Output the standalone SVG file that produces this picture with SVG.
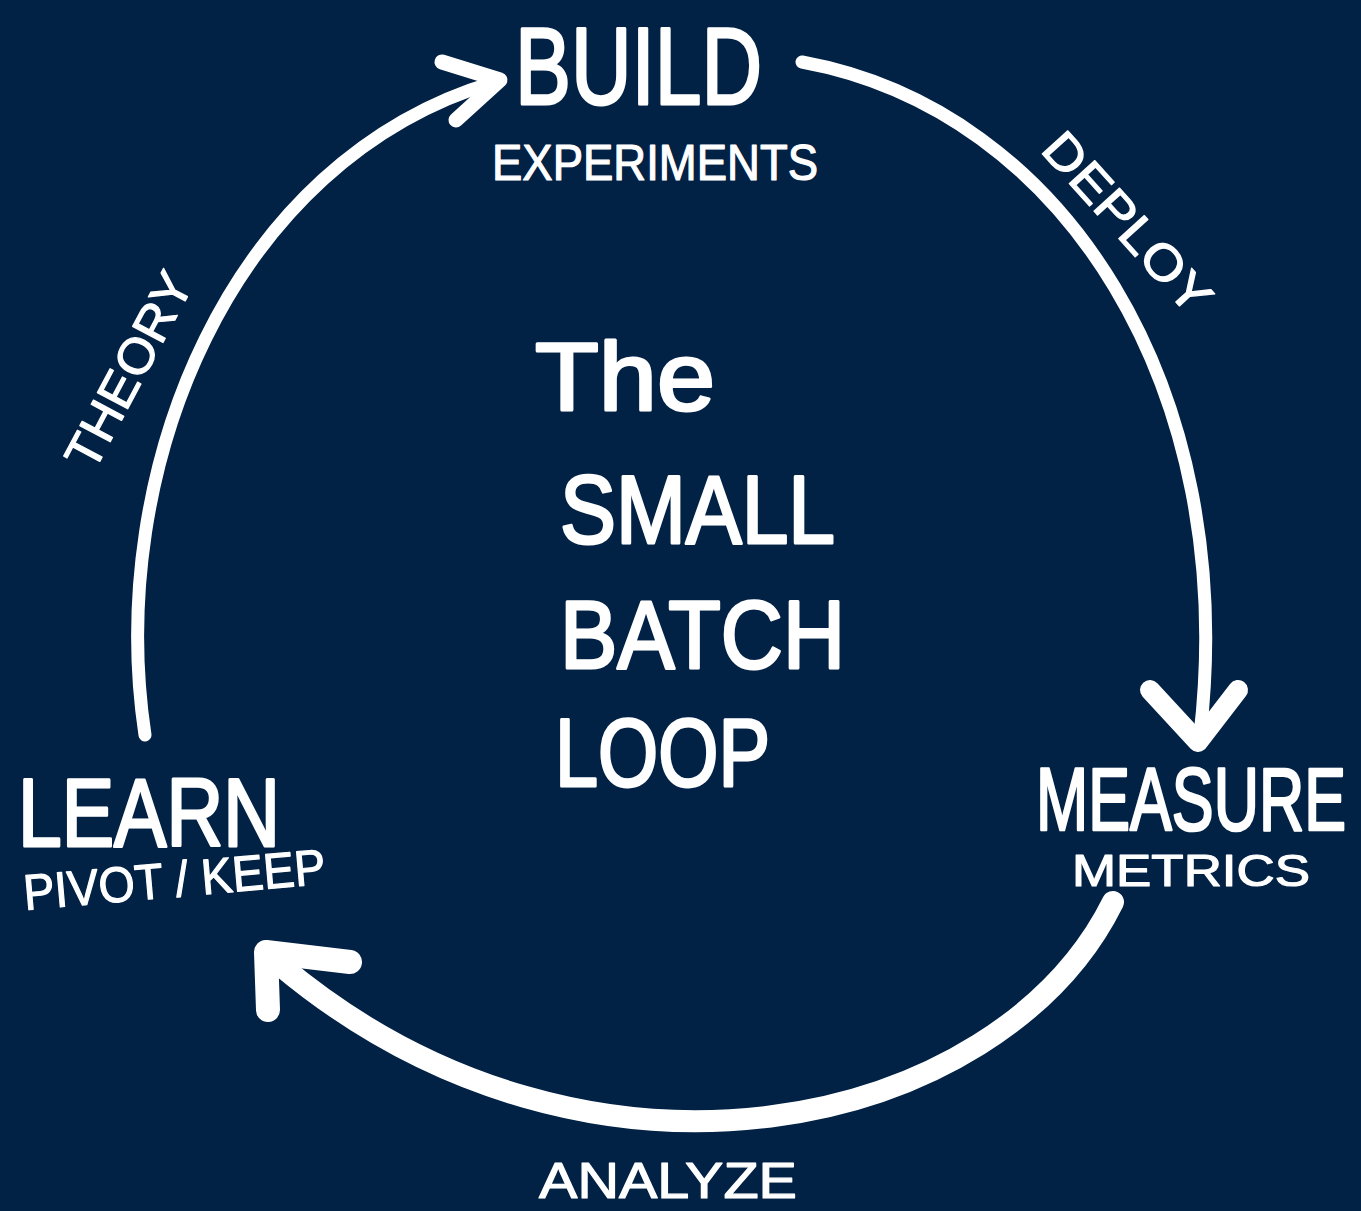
<svg xmlns="http://www.w3.org/2000/svg" width="1361" height="1211" viewBox="0 0 1361 1211">
<style>
.bg{fill:#012145}
.t{fill:#fff;font-family:"Liberation Sans","DejaVu Sans",sans-serif;stroke:#fff;stroke-linejoin:round}
.big{font-size:110px;stroke-width:3}
.sm{font-size:50px;stroke-width:1.2}
.ttl{font-size:96px;stroke-width:3}
.arc{fill:none;stroke:#fff;stroke-linecap:round;stroke-linejoin:round}
</style>
<rect class="bg" x="0" y="0" width="1361" height="1211"/>
<g id="connectors">
  <g id="theory-arc">
    <path class="arc" stroke-width="13" d="M145,735 C105,470 230,160 495,82"/>
    <path class="arc" stroke-width="15" d="M442,62 L500,80 L456,120"/>
    <text class="t sm" transform="translate(128,370) rotate(-62)" text-anchor="middle" textLength="215" lengthAdjust="spacingAndGlyphs" y="18">THEORY</text>
  </g>
  <g id="deploy-arc">
    <path class="arc" stroke-width="13" d="M802,62 C1065,110 1240,390 1200,735"/>
    <path class="arc" stroke-width="20" d="M1150,690 L1198,742 L1238,690"/>
    <text class="t sm" transform="translate(1128,222) rotate(48)" text-anchor="middle" textLength="225" lengthAdjust="spacingAndGlyphs" y="18">DEPLOY</text>
  </g>
  <g id="analyze-arc">
    <path class="arc" stroke-width="22" d="M1113,902 C1000,1130 590,1225 280,965"/>
    <path class="arc" stroke-width="24" d="M268,1010 L266,952 L350,962"/>
    <text class="t sm" x="668" y="1198" text-anchor="middle" textLength="258" lengthAdjust="spacingAndGlyphs">ANALYZE</text>
  </g>
</g>
<g id="build">
  <text class="t big" x="515" y="104" textLength="247" lengthAdjust="spacingAndGlyphs">BUILD</text>
  <text class="t sm" x="492" y="180" textLength="326" lengthAdjust="spacingAndGlyphs">EXPERIMENTS</text>
</g>
<g id="measure">
  <text class="t" transform="translate(1036,830) scale(0.95,1.35)" style="font-size:66px;stroke-width:2">MEASURE</text>
  <text class="t sm" x="1072" y="886" textLength="238" lengthAdjust="spacingAndGlyphs" style="font-size:44px">METRICS</text>
</g>
<g id="learn">
  <text class="t big" x="18" y="846" textLength="262" lengthAdjust="spacingAndGlyphs" style="font-size:96px">LEARN</text>
  <text class="t sm" transform="translate(25,910) rotate(-5)" textLength="303" lengthAdjust="spacingAndGlyphs">PIVOT / KEEP</text>
</g>
<g id="title">
  <text class="t ttl" x="535" y="410" textLength="180" lengthAdjust="spacingAndGlyphs">The</text>
  <text class="t ttl" x="560" y="543" textLength="275" lengthAdjust="spacingAndGlyphs">SMALL</text>
  <text class="t ttl" x="560" y="668" textLength="285" lengthAdjust="spacingAndGlyphs">BATCH</text>
  <text class="t ttl" x="555" y="786" textLength="215" lengthAdjust="spacingAndGlyphs">LOOP</text>
</g>
</svg>
